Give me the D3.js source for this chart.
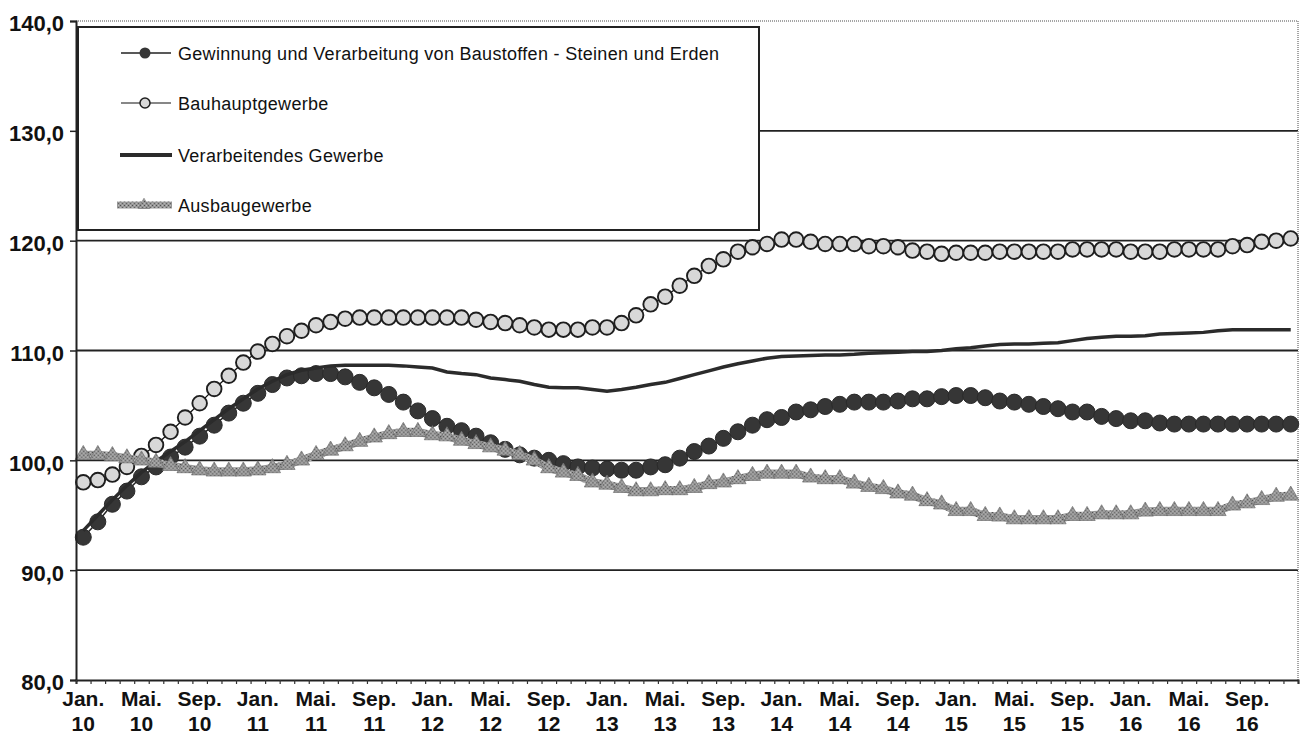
<!DOCTYPE html>
<html>
<head>
<meta charset="utf-8">
<script src="https://cdn.jsdelivr.net/npm/d3@7"></script>
<style>
  body { margin: 0; background: #fff; }
  svg text { font-family: "Liberation Sans", Arial, sans-serif; fill: #111; }
  .ylab text { font-size: 22px; font-weight: bold; }
  .xlab text { font-family: "Liberation Sans Narrow", "Liberation Sans", Arial, sans-serif; font-size: 21px; font-weight: bold; }
  .legend text { font-size: 18px; letter-spacing: 0.3px; }
</style>
</head>
<body>
<svg id="chart" width="1300" height="741"></svg>
<script>
//  === Data ===
var monthNames = ["Jan.", "Feb.", "Mrz.", "Apr.", "Mai.", "Jun.", "Jul.", "Aug.", "Sep.", "Okt.", "Nov.", "Dez."];
var years = ["10", "11", "12", "13", "14", "15", "16"];

var yTicks = [80, 90, 100, 110, 120, 130, 140];

var seriesNames = [
    "Gewinnung und Verarbeitung von Baustoffen - Steinen und Erden",
    "Bauhauptgewerbe",
    "Verarbeitendes Gewerbe",
    "Ausbaugewerbe"
];

var gewinnung = [93.0, 94.4, 96.0, 97.2, 98.5, 99.4, 100.3, 101.2, 102.2, 103.2,
    104.3, 105.2, 106.1, 106.9, 107.5, 107.7, 107.9, 107.9, 107.6, 107.1,
    106.6, 106.0, 105.3, 104.5, 103.8, 103.1, 102.7, 102.2, 101.6, 101.0,
    100.5, 100.2, 100.0, 99.7, 99.4, 99.3, 99.2, 99.1, 99.1, 99.4,
    99.6, 100.2, 100.8, 101.3, 102.0, 102.6, 103.2, 103.7, 103.9, 104.4,
    104.6, 104.9, 105.1, 105.3, 105.3, 105.3, 105.4, 105.6, 105.6, 105.8,
    105.9, 105.9, 105.7, 105.4, 105.3, 105.1, 104.9, 104.7, 104.4, 104.4,
    104.0, 103.8, 103.6, 103.6, 103.4, 103.3, 103.3, 103.3, 103.3, 103.3,
    103.3, 103.3, 103.3, 103.3];

var bauhaupt = [98.0, 98.2, 98.7, 99.4, 100.4, 101.4, 102.6, 103.9, 105.2, 106.5,
    107.7, 108.9, 109.9, 110.6, 111.3, 111.8, 112.3, 112.6, 112.9, 113.0,
    113.0, 113.0, 113.0, 113.0, 113.0, 113.0, 113.0, 112.8, 112.6, 112.5,
    112.3, 112.1, 111.9, 111.9, 111.9, 112.1, 112.1, 112.5, 113.2, 114.2,
    114.9, 115.9, 116.8, 117.7, 118.3, 119.0, 119.4, 119.7, 120.1, 120.1,
    119.9, 119.7, 119.7, 119.7, 119.5, 119.5, 119.4, 119.1, 119.0, 118.8,
    118.9, 118.9, 118.9, 119.0, 119.0, 119.0, 119.0, 119.0, 119.2, 119.2,
    119.2, 119.2, 119.0, 119.0, 119.0, 119.2, 119.2, 119.2, 119.2, 119.5,
    119.6, 119.9, 120.0, 120.2];

var verarbeitend = [93.6, 95.0, 96.4, 97.7, 98.9, 99.9, 100.8, 101.7, 102.7, 103.7,
    104.7, 105.6, 106.5, 107.2, 107.8, 108.2, 108.4, 108.6, 108.65, 108.65,
    108.65, 108.65, 108.6, 108.5, 108.4, 108.05, 107.9, 107.8, 107.5, 107.35,
    107.2, 106.9, 106.65, 106.6, 106.6, 106.45, 106.3, 106.45, 106.65, 106.9,
    107.1, 107.45, 107.8, 108.15, 108.5, 108.8, 109.05, 109.3, 109.45, 109.5,
    109.55, 109.6, 109.6, 109.65, 109.75, 109.8, 109.85, 109.9, 109.9, 110.0,
    110.15, 110.25, 110.4, 110.55, 110.6, 110.6, 110.65, 110.7, 110.9, 111.1,
    111.2, 111.3, 111.3, 111.35, 111.5, 111.55, 111.6, 111.65, 111.8, 111.9,
    111.9, 111.9, 111.9, 111.9];

var ausbau = [100.5, 100.5, 100.4, 100.2, 100.0, 99.8, 99.5, 99.3, 99.1, 99.0,
    99.0, 99.0, 99.1, 99.3, 99.6, 100.0, 100.5, 100.9, 101.3, 101.7,
    102.1, 102.4, 102.6, 102.6, 102.3, 102.2, 101.8, 101.5, 101.2, 100.9,
    100.5, 100.0, 99.3, 98.9, 98.6, 98.0, 97.8, 97.5, 97.2, 97.2,
    97.3, 97.3, 97.5, 97.85, 98.0, 98.3, 98.6, 98.8, 98.8, 98.8,
    98.45, 98.3, 98.3, 97.9, 97.6, 97.4, 97.0, 96.8, 96.3, 96.0,
    95.4, 95.4, 94.95, 94.9, 94.65, 94.65, 94.65, 94.65, 94.95, 94.95,
    95.1, 95.1, 95.1, 95.35, 95.4, 95.4, 95.4, 95.4, 95.4, 95.9,
    96.1, 96.4, 96.7, 96.8];

// month categories "Jan. 10" ... "Dez. 16"
var categories = [];
years.forEach(function (yy) {
    monthNames.forEach(function (m) { categories.push(m + " " + yy); });
});
// every 4th month gets a label
var tickLabels = categories.filter(function (d, i) { return i % 4 == 0; });
// /Data

//  === Chart ===
var svg = d3.select("#chart");
// note: "top" is taken by window.top, so plot edges get own names
var plotLeft = 76, plotRight = 1298, plotTop = 21, plotBottom = 680;

var x = d3.scaleBand().domain(categories).range([plotLeft, plotRight]).padding(0);
var xPos = function (d, i) { return x(categories[i]) + x.bandwidth() / 2; };
var y = d3.scaleLinear().domain([80, 140]).range([plotBottom, plotTop]);

// texture for the Ausbau series
var defs = svg.append("defs");
var pat = defs.append("pattern")
    .attr("id", "tex")
    .attr("width", 4).attr("height", 4)
    .attr("patternUnits", "userSpaceOnUse");
pat.append("rect").attr("width", 4).attr("height", 4).attr("fill", "#979797");
pat.append("rect").attr("x", 0).attr("y", 0).attr("width", 1).attr("height", 1).attr("fill", "#505050");
pat.append("rect").attr("x", 2).attr("y", 2).attr("width", 1).attr("height", 1).attr("fill", "#626262");
pat.append("rect").attr("x", 2).attr("y", 0).attr("width", 1).attr("height", 1).attr("fill", "#bdbdbd");
pat.append("rect").attr("x", 0).attr("y", 2).attr("width", 1).attr("height", 1).attr("fill", "#b5b5b5");

// gridlines
svg.append("g")
    .selectAll("line")
    .data([90, 100, 110, 120, 130])
    .enter()
    .append("line")
    .attr("x1", plotLeft).attr("x2", plotRight)
    .attr("y1", function (d) { return y(d); })
    .attr("y2", function (d) { return y(d); })
    .style("stroke", "#222")
    .style("stroke-width", 1.8);

// dotted frame top and right
svg.append("path")
    .attr("d", "M" + plotLeft + "," + y(140) + "H" + plotRight + "V" + plotBottom)
    .style("fill", "none")
    .style("stroke", "#888")
    .style("stroke-width", 1.5)
    .style("stroke-dasharray", "1,1");

// Gewinnung: line + dark dots
var line = d3.line().x(xPos).y(function (d) { return y(d); });

svg.append("path")
    .datum(gewinnung)
    .attr("d", line)
    .style("fill", "none")
    .style("stroke", "#222")
    .style("stroke-width", 1.5);
svg.append("g")
    .selectAll("circle")
    .data(gewinnung)
    .enter()
    .append("circle")
    .attr("cx", xPos)
    .attr("cy", function (d) { return y(d); })
    .attr("r", 8)
    .style("fill", "#363636")
    .style("stroke", "#2a2a2a")
    .style("stroke-width", 1);

// Bauhauptgewerbe: thin line + light dots
svg.append("path")
    .datum(bauhaupt)
    .attr("d", line)
    .style("fill", "none")
    .style("stroke", "#111")
    .style("stroke-width", 1.2);
svg.append("g")
    .selectAll("circle")
    .data(bauhaupt)
    .enter()
    .append("circle")
    .attr("cx", xPos)
    .attr("cy", function (d) { return y(d); })
    .attr("r", 7.3)
    .style("fill", "#d8d8d8")
    .style("stroke", "#1e1e1e")
    .style("stroke-width", 1.9);

// Verarbeitendes Gewerbe: thick dark line
svg.append("path")
    .datum(verarbeitend)
    .attr("d", line)
    .style("fill", "none")
    .style("stroke", "#2b2b2b")
    .style("stroke-width", 3.5);

// Ausbaugewerbe: textured band + triangles
var tri = d3.symbol().type(d3.symbolTriangle).size(115);
svg.append("path")
    .datum(ausbau)
    .attr("d", line)
    .style("fill", "none")
    .style("stroke", "url(#tex)")
    .style("stroke-width", 8);
svg.append("g")
    .selectAll("path")
    .data(ausbau)
    .enter()
    .append("path")
    .attr("d", tri)
    .attr("transform", function (d, i) { return "translate(" + xPos(d, i) + "," + y(d) + ")"; })
    .style("fill", "url(#tex)")
    .style("stroke", "#707070")
    .style("stroke-width", 0.7);

// y axis
var yAxis = svg.append("g")
    .attr("class", "ylab")
    .attr("transform", "translate(" + plotLeft + ",0)")
    .call(d3.axisLeft(y).tickValues(yTicks).tickSize(6).tickPadding(6)
        .tickFormat(function (d) { return d.toFixed(1).replace(".", ","); }));
yAxis.select(".domain").style("stroke", "#222").style("stroke-width", 2);
yAxis.selectAll(".tick line").style("stroke", "#222").style("stroke-width", 1.5);
yAxis.selectAll("text").attr("dy", "0.45em");

// x axis: small ticks at every month
var xTickScale = d3.scaleLinear().domain([0, categories.length]).range([plotLeft, plotRight]);
var xTicks = svg.append("g")
    .attr("transform", "translate(0," + plotBottom + ")")
    .call(d3.axisBottom(xTickScale).tickValues(d3.range(categories.length + 1)).tickSize(4).tickFormat(""));
xTicks.select(".domain").style("stroke", "#222").style("stroke-width", 2);
xTicks.selectAll(".tick line").style("stroke", "#333").style("stroke-width", 1.2);

// x axis labels, two lines
var xAxis = svg.append("g")
    .attr("class", "xlab")
    .attr("transform", "translate(0," + plotBottom + ")")
    .call(d3.axisBottom(x).tickValues(tickLabels).tickSize(0));
xAxis.select(".domain").remove();
xAxis.selectAll("text").each(function (d) {
    var parts = d.split(" ");
    var t = d3.select(this).text(null).attr("dy", null).attr("y", null);
    t.append("tspan").attr("x", 0).attr("y", 26).text(parts[0]);
    t.append("tspan").attr("x", 0).attr("y", 51).text(parts[1]);
});

//  === Legend ===
var legend = svg.append("g").attr("class", "legend");
legend.append("rect")
    .attr("x", 78).attr("y", 27)
    .attr("width", 681).attr("height", 203)
    .style("fill", "#fff")
    .style("stroke", "#222")
    .style("stroke-width", 2);

var rowY = [53, 103, 155, 205];
var entry = legend.selectAll(".entry")
    .data(seriesNames)
    .enter()
    .append("g")
    .attr("class", "entry")
    .attr("transform", function (d, i) { return "translate(0," + rowY[i] + ")"; });

entry.append("text")
    .attr("x", 178)
    .attr("y", 7)
    .text(function (d) { return d; });

// sample 1
var e = d3.select(entry.nodes()[0]);
e.append("line").attr("x1", 121).attr("x2", 171).style("stroke", "#222").style("stroke-width", 1.5);
e.append("circle").attr("cx", 145).attr("r", 5.5).style("fill", "#363636");
// sample 2
e = d3.select(entry.nodes()[1]);
e.append("line").attr("x1", 121).attr("x2", 171).style("stroke", "#111").style("stroke-width", 1.2);
e.append("circle").attr("cx", 145).attr("r", 5).style("fill", "#d8d8d8").style("stroke", "#1e1e1e").style("stroke-width", 1.5);
// sample 3
e = d3.select(entry.nodes()[2]);
e.append("line").attr("x1", 120).attr("x2", 172).style("stroke", "#2b2b2b").style("stroke-width", 4);
// sample 4
e = d3.select(entry.nodes()[3]);
e.append("line").attr("x1", 117).attr("x2", 172).style("stroke", "url(#tex)").style("stroke-width", 7);
e.append("path").attr("d", d3.symbol().type(d3.symbolTriangle).size(60)).attr("transform", "translate(144,0)")
    .style("fill", "url(#tex)").style("stroke", "#707070").style("stroke-width", 0.6);
// /Legend
</script>
</body>
</html>
